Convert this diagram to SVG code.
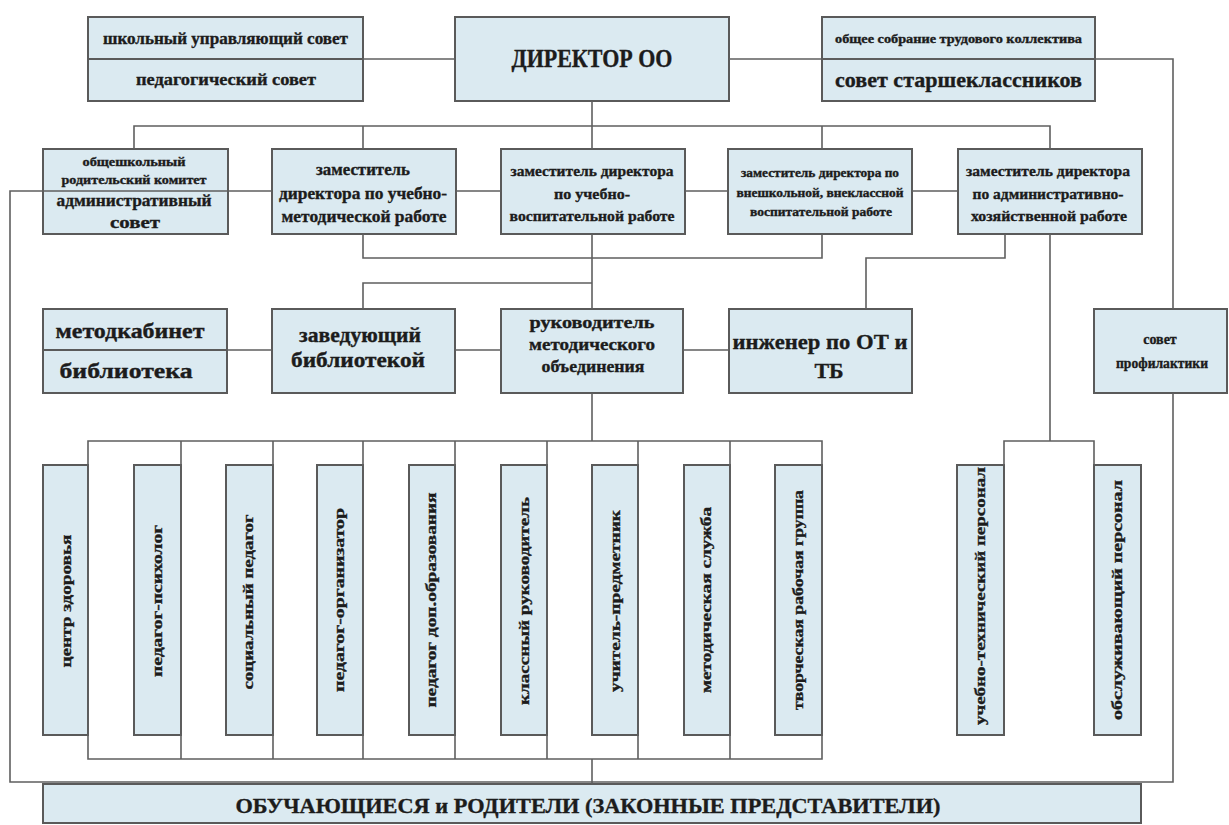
<svg xmlns="http://www.w3.org/2000/svg" width="1229" height="825" viewBox="0 0 1229 825">
<style>
.box{fill:#dbeaf1;stroke:#5a5a5a;stroke-width:2}
.ln{fill:none;stroke:#5f5f5f;stroke-width:1.6}
.t{font-family:'Liberation Serif','Times New Roman',serif;font-weight:bold;fill:#1c1c1c;stroke:#1c1c1c;stroke-width:0.35;text-anchor:middle}
.s12{font-size:12px}.s14{font-size:14px}.s15{font-size:15px}.s16{font-size:16px}.s17{font-size:17px}.s19{font-size:19px}.s20{font-size:20px}.s22{font-size:22px}.s25{font-size:25px}
</style>
<rect width="1229" height="825" fill="#ffffff"/>
<g id="nodes" font-family="Liberation Serif, Times New Roman, serif">
<g id="n-shkolny-sovet"><rect class="box" x="88" y="17" width="275" height="42"/><text class="t s17" x="225.5" y="44" textLength="245" lengthAdjust="spacingAndGlyphs">школьный управляющий совет</text></g>
<g id="n-ped-sovet"><rect class="box" x="88" y="59" width="275" height="42"/><text class="t s17" x="226" y="85" textLength="180" lengthAdjust="spacingAndGlyphs">педагогический совет</text></g>
<g id="n-director"><rect class="box" x="455" y="17" width="274" height="84"/><text class="t s25" x="592" y="67" textLength="161" lengthAdjust="spacingAndGlyphs">ДИРЕКТОР ОО</text></g>
<g id="n-sobranie"><rect class="box" x="822" y="17" width="273" height="42"/><text class="t s12" x="958.5" y="43" textLength="247" lengthAdjust="spacingAndGlyphs">общее собрание трудового коллектива</text></g>
<g id="n-starsheklassniki"><rect class="box" x="822" y="59" width="273" height="42"/><text class="t s22" x="958.5" y="87" textLength="247" lengthAdjust="spacingAndGlyphs">совет старшеклассников</text></g>

<g id="n-roditel-komitet"><rect class="box" x="43" y="149" width="185" height="85"/>
<text class="t s12" x="134" y="166" textLength="103" lengthAdjust="spacingAndGlyphs">общешкольный</text>
<text class="t s12" x="134" y="184" textLength="145" lengthAdjust="spacingAndGlyphs">родительский комитет</text>
<text class="t s16" x="134" y="206" textLength="155" lengthAdjust="spacingAndGlyphs">административный</text>
<text class="t s16" x="135" y="228" textLength="50" lengthAdjust="spacingAndGlyphs">совет</text></g>
<g id="n-zam-umr"><rect class="box" x="272" y="149" width="184" height="85"/>
<text class="t s16" x="363" y="175" textLength="94" lengthAdjust="spacingAndGlyphs">заместитель</text>
<text class="t s16" x="363" y="199" textLength="168" lengthAdjust="spacingAndGlyphs">директора по учебно-</text>
<text class="t s16" x="364" y="222" textLength="165" lengthAdjust="spacingAndGlyphs">методической работе</text></g>
<g id="n-zam-uvr"><rect class="box" x="501" y="149" width="184" height="85"/>
<text class="t s15" x="592" y="176" textLength="163" lengthAdjust="spacingAndGlyphs">заместитель директора</text>
<text class="t s15" x="592" y="199" textLength="76" lengthAdjust="spacingAndGlyphs">по учебно-</text>
<text class="t s15" x="592" y="221" textLength="165" lengthAdjust="spacingAndGlyphs">воспитательной работе</text></g>
<g id="n-zam-vr"><rect class="box" x="728" y="149" width="184" height="85"/>
<text class="t s12" x="820" y="177" textLength="158" lengthAdjust="spacingAndGlyphs">заместитель директора по</text>
<text class="t s12" x="820" y="197" textLength="167" lengthAdjust="spacingAndGlyphs">внешкольной, внеклассной</text>
<text class="t s12" x="821" y="216" textLength="142" lengthAdjust="spacingAndGlyphs">воспитательной работе</text></g>
<g id="n-zam-ahr"><rect class="box" x="958" y="149" width="184" height="85"/>
<text class="t s15" x="1048" y="176" textLength="164" lengthAdjust="spacingAndGlyphs">заместитель директора</text>
<text class="t s15" x="1048" y="199" textLength="151" lengthAdjust="spacingAndGlyphs">по административно-</text>
<text class="t s15" x="1049" y="221" textLength="156" lengthAdjust="spacingAndGlyphs">хозяйственной работе</text></g>

<g id="n-metodkabinet"><rect class="box" x="43" y="309" width="184" height="41"/><text class="t s20" x="130" y="338" textLength="149" lengthAdjust="spacingAndGlyphs">методкабинет</text></g>
<g id="n-biblioteka"><rect class="box" x="43" y="350" width="184" height="43"/><text class="t s20" x="126" y="378" textLength="133" lengthAdjust="spacingAndGlyphs">библиотека</text></g>
<g id="n-zav-bibl"><rect class="box" x="272" y="309" width="183" height="84"/>
<text class="t s20" x="360" y="342" textLength="122" lengthAdjust="spacingAndGlyphs">заведующий</text>
<text class="t s20" x="358" y="367" textLength="134" lengthAdjust="spacingAndGlyphs">библиотекой</text></g>
<g id="n-ruk-mo"><rect class="box" x="501" y="309" width="182" height="84"/>
<text class="t s17" x="592" y="328" textLength="125" lengthAdjust="spacingAndGlyphs">руководитель</text>
<text class="t s17" x="592" y="350" textLength="126" lengthAdjust="spacingAndGlyphs">методического</text>
<text class="t s17" x="593" y="372" textLength="103" lengthAdjust="spacingAndGlyphs">объединения</text></g>
<g id="n-inzhener"><rect class="box" x="729" y="309" width="183" height="84"/>
<text class="t s22" x="820" y="349" textLength="175" lengthAdjust="spacingAndGlyphs">инженер по ОТ и</text>
<text class="t s22" x="829" y="378">ТБ</text></g>
<g id="n-sovet-prof"><rect class="box" x="1094" y="309" width="133" height="84"/>
<text class="t s14" x="1160" y="344">совет</text>
<text class="t s14" x="1162" y="368" textLength="92" lengthAdjust="spacingAndGlyphs">профилактики</text></g>

<g id="n-centr-zdorovya"><rect class="box" x="43" y="465" width="45" height="270"/><text class="t s14" transform="translate(67,601) rotate(-90)" y="4" textLength="133" lengthAdjust="spacingAndGlyphs">центр здоровья</text></g>
<g id="n-psiholog"><rect class="box" x="134" y="465" width="47" height="270"/><text class="t s14" transform="translate(158,601) rotate(-90)" y="4" textLength="152" lengthAdjust="spacingAndGlyphs">педагог-психолог</text></g>
<g id="n-socped"><rect class="box" x="226" y="465" width="47" height="270"/><text class="t s14" transform="translate(249,602) rotate(-90)" y="4" textLength="175" lengthAdjust="spacingAndGlyphs">социальный педагог</text></g>
<g id="n-pedorg"><rect class="box" x="317" y="465" width="46" height="270"/><text class="t s14" transform="translate(340,600) rotate(-90)" y="4" textLength="184" lengthAdjust="spacingAndGlyphs">педагог-организатор</text></g>
<g id="n-pdo"><rect class="box" x="409" y="465" width="46" height="270"/><text class="t s14" transform="translate(432,600) rotate(-90)" y="4" textLength="215" lengthAdjust="spacingAndGlyphs">педагог доп.образования</text></g>
<g id="n-klruk"><rect class="box" x="501" y="465" width="46" height="270"/><text class="t s14" transform="translate(525,601) rotate(-90)" y="4" textLength="208" lengthAdjust="spacingAndGlyphs">классный руководитель</text></g>
<g id="n-uchitel"><rect class="box" x="592" y="465" width="46" height="270"/><text class="t s14" transform="translate(616,601) rotate(-90)" y="4" textLength="182" lengthAdjust="spacingAndGlyphs">учитель-предметник</text></g>
<g id="n-metsluzhba"><rect class="box" x="684" y="465" width="46" height="270"/><text class="t s14" transform="translate(707,600) rotate(-90)" y="4" textLength="186" lengthAdjust="spacingAndGlyphs">методическая служба</text></g>
<g id="n-tvorch"><rect class="box" x="775" y="465" width="47" height="270"/><text class="t s14" transform="translate(799,600) rotate(-90)" y="4" textLength="220" lengthAdjust="spacingAndGlyphs">творческая рабочая группа</text></g>
<g id="n-uchtech"><rect class="box" x="957" y="465" width="47" height="270"/><text class="t s14" transform="translate(981,596) rotate(-90)" y="4" textLength="258" lengthAdjust="spacingAndGlyphs">учебно-технический персонал</text></g>
<g id="n-obsluzh"><rect class="box" x="1094" y="465" width="47" height="270"/><text class="t s14" transform="translate(1118,600) rotate(-90)" y="4" textLength="240" lengthAdjust="spacingAndGlyphs">обслуживающий персонал</text></g>

<g id="n-obuchayushiesya"><rect class="box" x="43" y="784" width="1098" height="39"/><text class="t s22" x="588" y="813" textLength="705" lengthAdjust="spacingAndGlyphs">ОБУЧАЮЩИЕСЯ и РОДИТЕЛИ (ЗАКОННЫЕ ПРЕДСТАВИТЕЛИ)</text></g>
</g>
<g id="connectors" class="ln">
<path d="M363 59H455"/>
<path d="M729 59H1173V309"/>
<path d="M1173 393V782H10V191H272"/>
<path d="M592 101V149"/>
<path d="M134 149V126H1050V149"/>
<path d="M363 126V149M822 126V149"/>
<path d="M456 191H501M685 191H728M912 191H958"/>
<path d="M363 234V258H822V234"/>
<path d="M592 234V309"/>
<path d="M363 309V283H592"/>
<path d="M1005 234V258H866V309"/>
<path d="M1050 234V441M1004 465V441H1094V465"/>
<path d="M227 350H272M455 350H501M683 350H729"/>
<path d="M592 393V441"/>
<path d="M88 441H822V759H88Z"/>
<path d="M181 441V759M273 441V759M363 441V759M455 441V759M547 441V759M638 441V759M730 441V759"/>
<path d="M592 759V784"/>
</g>
</svg>
